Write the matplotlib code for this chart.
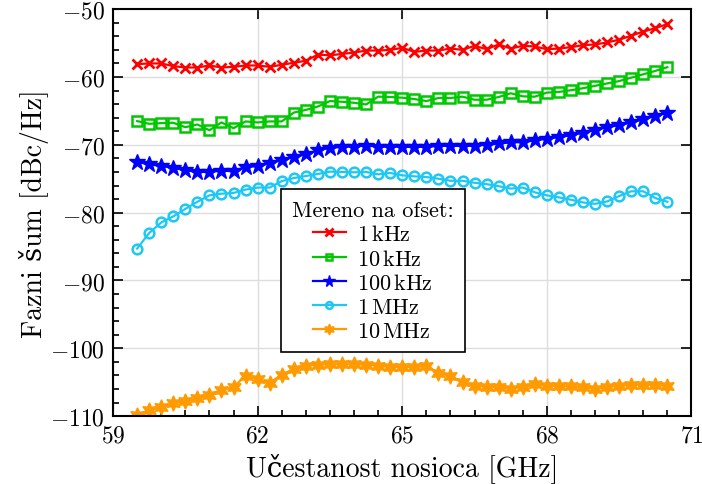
import numpy as np
import matplotlib
matplotlib.use("Agg")
import matplotlib.pyplot as plt
from matplotlib.ticker import MultipleLocator, FixedLocator

plt.rcParams['font.family'] = ['cmr10', 'DejaVu Serif']
plt.rcParams['mathtext.fontset'] = 'cm'
plt.rcParams['axes.formatter.use_mathtext'] = True

# Carrier frequency sweep [GHz]
freq = np.arange(59.5, 70.5 + 1e-9, 0.25)

# Phase noise [dBc/Hz] at each offset
pn_1k = [-58.1, -58.0, -58.0, -58.4, -58.6, -58.6, -58.3, -58.6, -58.5, -58.3,
         -58.3, -58.5, -58.2, -57.9, -57.6, -56.7, -56.8, -56.6, -56.4, -56.1,
         -56.1, -56.0, -55.7, -56.3, -56.1, -56.1, -55.8, -56.0, -55.4, -55.9,
         -55.2, -55.8, -55.4, -55.5, -55.9, -55.8, -55.6, -55.3, -55.2, -54.9,
         -54.5, -53.9, -53.3, -52.8, -52.2]
pn_10k = [-66.5, -66.9, -66.8, -66.75, -67.4, -67.0, -67.85, -66.7, -67.55, -66.55,
          -66.7, -66.55, -66.55, -65.25, -64.85, -64.35, -63.55, -63.65, -63.8, -64.05,
          -62.9, -62.95, -63.05, -63.25, -63.55, -63.1, -63.1, -62.9, -63.35, -63.35,
          -62.95, -62.4, -62.85, -62.9, -62.3, -62.2, -61.95, -61.65, -61.3, -60.95,
          -60.6, -60.1, -59.6, -59.1, -58.55]
pn_100k = [-72.5, -72.9, -73.1, -73.4, -73.75, -74.0, -74.0, -73.8, -73.9, -73.25,
           -73.15, -72.7, -72.25, -71.8, -71.4, -70.8, -70.45, -70.3, -70.25, -70.1,
           -70.25, -70.3, -70.25, -70.35, -70.25, -70.2, -70.1, -70.2, -70.1, -70.0,
           -69.8, -69.65, -69.6, -69.35, -69.1, -68.85, -68.6, -68.2, -67.8, -67.4,
           -67.1, -66.7, -66.25, -65.7, -65.3]
pn_1M = [-85.3, -83.0, -81.45, -80.55, -79.45, -78.4, -77.45, -77.2, -77.1, -76.6,
         -76.3, -76.3, -75.35, -74.9, -74.6, -74.3, -73.95, -74.0, -74.05, -74.0,
         -74.35, -74.15, -74.5, -74.65, -74.75, -75.0, -75.3, -75.3, -75.6, -75.8,
         -76.1, -76.45, -76.3, -77.0, -77.45, -77.75, -78.1, -78.5, -78.7, -78.35,
         -77.55, -76.85, -76.85, -77.85, -78.4]
pn_10M = [-109.9, -109.15, -108.6, -108.1, -107.8, -107.4, -106.9, -106.2, -105.7, -104.05,
          -104.55, -105.1, -103.9, -103.05, -102.55, -102.4, -102.35, -102.35, -102.35, -102.4,
          -102.6, -102.75, -102.75, -102.8, -102.6, -103.6, -104.1, -105.0, -105.5, -105.7,
          -105.75, -106.0, -105.65, -105.3, -105.5, -105.6, -105.6, -105.75, -105.95, -105.75,
          -105.5, -105.45, -105.4, -105.4, -105.55]

labels = ['1$\\,$kHz', '10$\\,$kHz', '100$\\,$kHz', '1$\\,$MHz', '10$\\,$MHz']
x_ticks = [59, 62, 65, 68, 71]
y_ticks = [-110, -100, -90, -80, -70, -60, -50]

fig = plt.figure(figsize=(7.02, 4.85), dpi=100)
ax = fig.add_axes([0.161, 0.140, 0.824, 0.839])

ax.plot(freq, pn_1k, color='#ff0000', lw=1.6, marker='x', ms=7.5, mew=2.0,
        label=labels[0])
ax.plot(freq, pn_10k, color='#00c800', lw=1.6, marker='s', ms=6.5, mew=1.8,
        mfc='none', label=labels[1])
ax.plot(freq, pn_100k, color='#0000ff', lw=1.6, marker='*', ms=12, mew=1.0,
        label=labels[2])
ax.plot(freq, pn_1M, color='#1ec8f5', lw=1.6, marker='o', ms=7, mew=1.8,
        mfc='none', label=labels[3])
ax.plot(freq, pn_10M, color='#ff9a00', lw=1.6, marker=(6, 1, 0), ms=11, mew=1.0,
        label=labels[4])

ax.set_xlim(59, 71)
ax.set_ylim(-110, -50)
ax.xaxis.set_major_locator(FixedLocator(x_ticks))
ax.xaxis.set_minor_locator(MultipleLocator(0.5))
ax.yaxis.set_major_locator(FixedLocator(y_ticks))
ax.yaxis.set_minor_locator(MultipleLocator(2))

ax.grid(True, which='major', color='#dddddd', lw=1.0)
ax.set_axisbelow(True)
ax.tick_params(which='both', direction='in', labelsize=17, width=1.2)
ax.tick_params(which='major', length=7, top=True, right=True, pad=6)
ax.tick_params(which='minor', length=4, top=False, right=False)
for s in ax.spines.values():
    s.set_linewidth(1.5)

ax.set_xlabel('Učestanost nosioca [GHz]', fontsize=20)
ax.set_ylabel('Fazni šum [dBc/Hz]', fontsize=20, labelpad=1)

leg = ax.legend(title='Mereno na ofset:', loc='upper left',
                bbox_to_anchor=(0.29, 0.558), borderaxespad=0.0,
                fontsize=16, title_fontsize=16,
                fancybox=False, edgecolor='black', framealpha=1.0,
                markerscale=0.7, handlelength=1.5, handletextpad=0.5,
                labelspacing=0.2, borderpad=0.5)
leg.get_frame().set_linewidth(1.2)

fig.savefig('out.png', dpi=100)
